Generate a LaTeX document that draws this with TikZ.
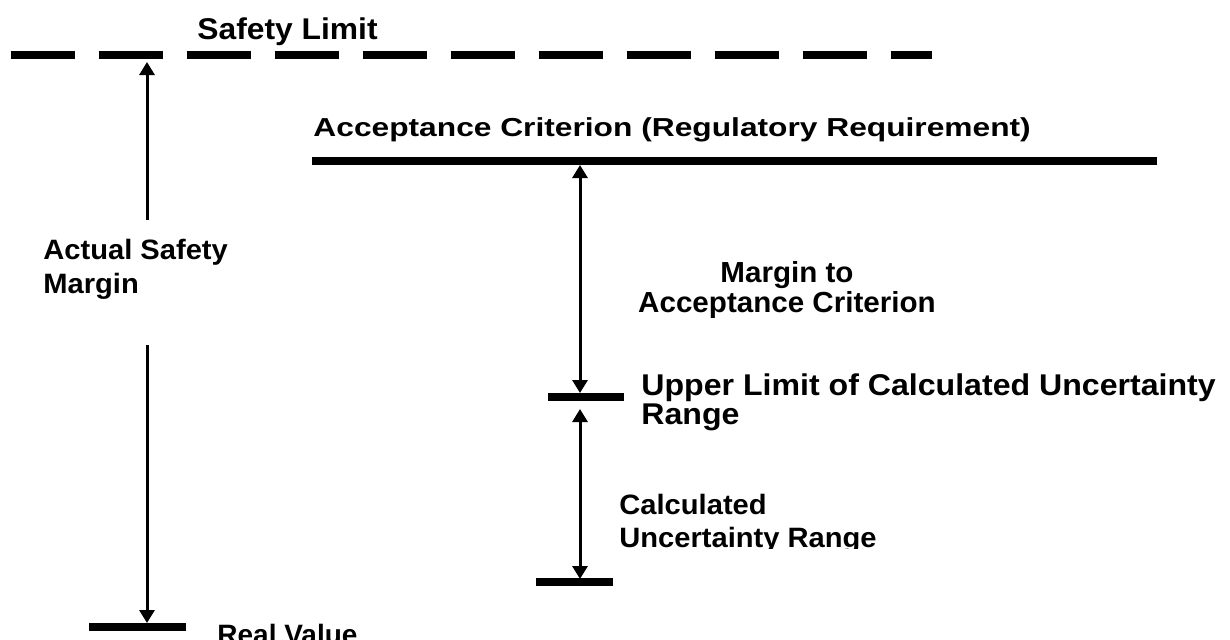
\documentclass[tikz,border=0pt]{standalone}
\usepackage{fontspec}
\setmainfont{Liberation Sans}
\usetikzlibrary{arrows.meta}
\begin{document}
\begin{tikzpicture}[x=0.5pt, y=-0.5pt, line join=round, >={Triangle[width=7.5pt,length=6.5pt]},
	level/.style={line width=4pt},
	span/.style={line width=1.5pt},
	lbl/.style={inner sep=0pt, anchor=base west, align=left}]
	\useasboundingbox (0,0) rectangle (1230,639);
	% limits and levels
	\coordinate (slL) at (11,55); \coordinate (slR) at (932,55);
	\coordinate (acL) at (312,161); \coordinate (acR) at (1157,161);
	\coordinate (ulL) at (548,397); \coordinate (ulR) at (624,397);
	\coordinate (cuL) at (536,582); \coordinate (cuR) at (613,582);
	\coordinate (rvL) at (89,627); \coordinate (rvR) at (186,627);
	\draw[level, dash pattern=on 32pt off 12pt] (slL) -- (slR);
	\draw[level] (acL) -- (acR);
	\draw[level] (ulL) -- (ulR);
	\draw[level] (cuL) -- (cuR);
	\draw[level] (rvL) -- (rvR);
	% margins
	\coordinate (asTop) at (147,62); \coordinate (asA) at (147,220);
	\coordinate (asB) at (147,345); \coordinate (asBot) at (147,623);
	\coordinate (mTop) at (580,165); \coordinate (mBot) at (580,393);
	\coordinate (uTop) at (580,409); \coordinate (uBot) at (580,579);
	\draw[span, ->] (asA) -- (asTop);
	\draw[span, ->] (asB) -- (asBot);
	\draw[span, <->] (mTop) -- (mBot);
	\draw[span, <->] (uTop) -- (uBot);
	% labels (anchored at the baseline of their last line)
	\node[lbl, font=\bfseries\fontsize{15}{18}\selectfont, xscale=1.06] (slt) at (197,39) {Safety Limit};
	\node[lbl, font=\bfseries\fontsize{13}{16}\selectfont, xscale=1.22] (act) at (313,136) {Acceptance Criterion (Regulatory Requirement)};
	\node[lbl, font=\bfseries\fontsize{14}{17}\selectfont, xscale=1.04] (ast) at (43,293) {Actual Safety\\Margin};
	\node[lbl, anchor=base, align=center, font=\bfseries\fontsize{14.5}{15}\selectfont, xscale=1.02] (mt) at (787,312) {Margin to\\Acceptance Criterion};
	\node[lbl, font=\bfseries\fontsize{15}{14.5}\selectfont, xscale=1.07] (ult) at (641,424) {Upper Limit of Calculated Uncertainty\\Range};
	\begin{scope}
		\clip (600,480) rectangle (900,548);
		\node[lbl, font=\bfseries\fontsize{14}{16.5}\selectfont, xscale=1.04] (cut) at (619,547) {Calculated\\Uncertainty Range};
	\end{scope}
	\node[lbl, font=\bfseries\fontsize{14}{17}\selectfont] (rvt) at (217,644) {Real Value};
\end{tikzpicture}
\end{document}
